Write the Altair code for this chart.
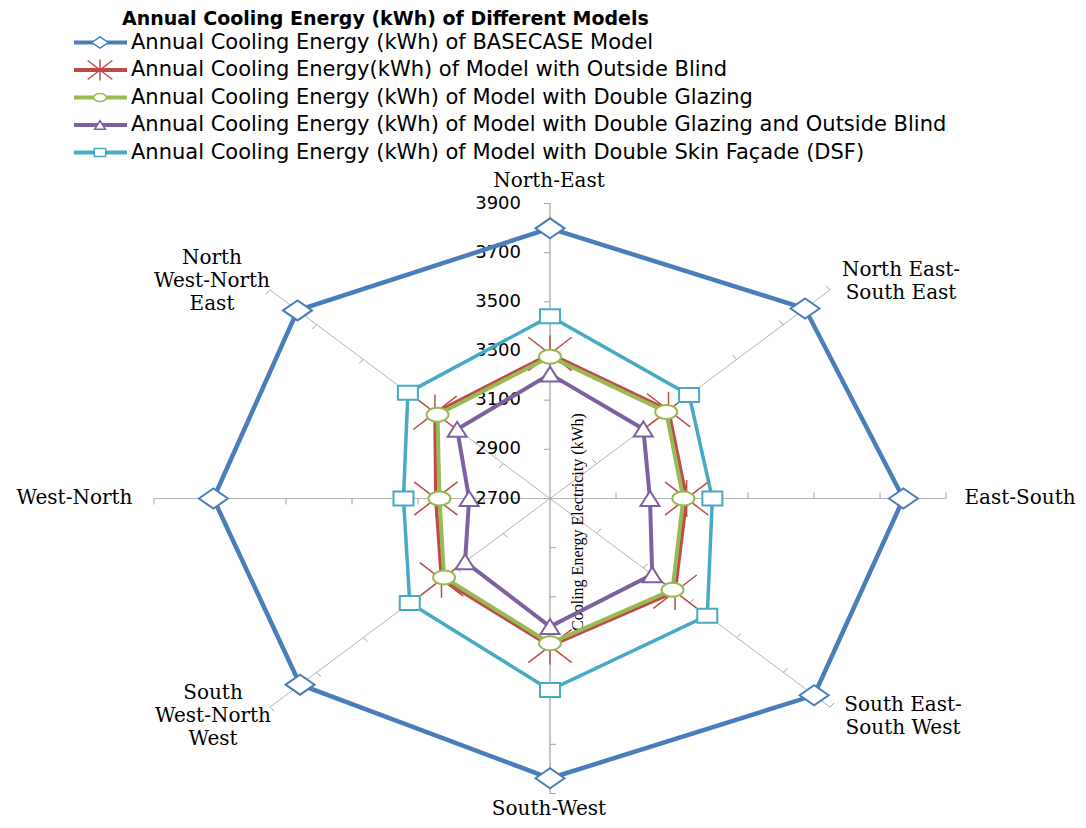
import altair as alt
import pandas as pd

# ---------------- data ----------------
categories = ["North-East", "North East-South East", "East-South", "South East-South West",
              "South-West", "South West-North West", "West-North", "North West-North East"]
category_labels = ["North-East", "North East-\nSouth East", "East-South", "South East-\nSouth West",
                   "South-West", "South\nWest-North\nWest", "West-North", "North\nWest-North\nEast"]
series_names = [
    "Annual Cooling  Energy (kWh) of BASECASE Model",
    "Annual Cooling Energy(kWh) of Model with Outside Blind",
    "Annual Cooling Energy (kWh) of Model with Double Glazing",
    "Annual Cooling Energy (kWh) of Model with Double Glazing and Outside Blind",
    "Annual Cooling Energy (kWh) of Model with Double Skin Façade (DSF)",
]
basecase = [3799, 3793, 3771, 3832, 3838, 3771, 3720, 3782]
outside_blind = [3288, 3208, 3114, 3236, 3300, 3165, 3046, 3193]
double_glazing = [3277, 3198, 3104, 3225, 3289, 3154, 3035, 3182]
dg_outside_blind = [3206, 3100, 3003, 3138, 3221, 3064, 2945, 3098]
dsf = [3441, 3296, 3192, 3374, 3479, 3301, 3144, 3309]
radial_ticks = [2700, 2900, 3100, 3300, 3500, 3700, 3900]
legend_title = "Annual Cooling Energy (kWh) of Different Models"
axis_title = "Cooling Energy Electricity  (kWh)"

all_values = [basecase, outside_blind, double_glazing, dg_outside_blind, dsf]

# ---------------- styles / layout ----------------
colors = ["#4A7EBB", "#BE4B48", "#98B954", "#7D60A0", "#46AAC5"]
line_widths = [4.5, 3.5, 4.0, 4.0, 3.5]
marker_paths = [
    "M-1.45,0L0,-1L1.45,0L0,1Z",                                   # diamond
    "M-2.17,-1.67L2.17,1.67M-2.17,1.67L2.17,-1.67M0,-1.84L0,1.84",  # star
    "M-1.1,0A1.1,0.7,0,1,0,1.1,0A1.1,0.7,0,1,0,-1.1,0Z",            # circle
    "M0,-0.75L0.95,0.75L-0.95,0.75Z",                              # triangle
    "M-1,-0.7L1,-0.7L1,0.7L-1,0.7Z",                               # square
]
marker_stroke = [2, 1.5, 2, 2, 2]
MARKER_SIZE = 400
LEGEND_MARKER_SIZE = 130

RMIN, RMAX = 2700, 3900
M = 8
W, H = 1070, 812
CX, CY = 550.0, 498.5
RX, RY = 396.0, 295.0


def px2x(px):
    return (px - CX) / RX


def py2y(py):
    return (CY - py) / RY


xs = alt.Scale(domain=[px2x(M), px2x(M + W)], nice=False, zero=False)
ys = alt.Scale(domain=[py2y(M + H), py2y(M)], nice=False, zero=False)

SERIF = "DejaVu Serif"
SANS = "DejaVu Sans"

# ---------------- tables ----------------
rows = []
for s, vals in zip(series_names, all_values):
    for i, v in enumerate(vals + [vals[0]]):
        rows.append({"series": s, "k": i % 8, "order": i, "value": v})
df = pd.DataFrame(rows)

spokes = pd.DataFrame({"k": list(range(8)), "category": categories})
ticks = pd.DataFrame([{"k": k, "v": v} for k in range(8) for v in radial_ticks[1:]])
tick_labels = pd.DataFrame({"v": radial_ticks, "label": [str(v) for v in radial_ticks]})

# anchor = centre of the first text line (page pixels)
label_px = [(549, 181), (901, 270), (1020, 498), (903, 705),
            (549, 809), (213, 693), (74.5, 498), (212, 258)]
cat_df = pd.DataFrame({"label": category_labels,
                       "lx": [px2x(p[0]) for p in label_px],
                       "ly": [py2y(p[1]) for p in label_px]})

X = lambda f: alt.X(f, scale=xs, axis=None)
Y = lambda f: alt.Y(f, scale=ys, axis=None)
X2 = lambda f: alt.X2(f)
Y2 = lambda f: alt.Y2(f)

layers = []

# spokes
spoke_base = alt.Chart(spokes).transform_calculate(
    a="datum.k*PI/4", x0="0", y0="0", x1="sin(datum.a)", y1="cos(datum.a)"
)
layers.append(spoke_base.transform_filter("datum.k % 4 != 0").mark_rule(color="#B4B4B4", strokeWidth=1).encode(
    x=X("x0:Q"), y=Y("y0:Q"), x2=X2("x1:Q"), y2=Y2("y1:Q")))
layers.append(spoke_base.transform_filter("datum.k % 4 == 0").mark_rule(color="#8C8C8C", strokeWidth=1).encode(
    x=X("x0:Q"), y=Y("y0:Q"), x2=X2("x1:Q"), y2=Y2("y1:Q")))

# tick marks on spokes
TL = 6.0
tick_chart = alt.Chart(ticks).transform_calculate(
    a="datum.k*PI/4",
    r=f"(datum.v-{RMIN})/({RMAX}-{RMIN})",
    tx="datum.r*sin(datum.a)",
    ty="datum.r*cos(datum.a)",
    tx2=f"datum.tx - cos(datum.a)*{TL}/{RX}",
    ty2=f"datum.ty + sin(datum.a)*{TL}/{RY}",
).mark_rule(color="#A0A0A0", strokeWidth=1).encode(
    x=X("tx:Q"), y=Y("ty:Q"), x2=X2("tx2:Q"), y2=Y2("ty2:Q"))
layers.append(tick_chart)

# radial tick labels
layers.append(alt.Chart(tick_labels).transform_calculate(
    ty=f"(datum.v-{RMIN})/({RMAX}-{RMIN})"
).mark_text(align="right", baseline="middle", font=SANS, fontSize=18, color="#000000").encode(
    x=alt.value(521 - M), y=Y("ty:Q"), text="label:N"))

# axis title
layers.append(alt.Chart(pd.DataFrame({"t": [axis_title]})).mark_text(
    angle=270, align="center", baseline="middle", font="Liberation Serif", fontSize=16, color="#000000"
).encode(x=alt.value(578 - M), y=alt.value(522 - M), text="t:N"))

# series
base = alt.Chart(df).transform_calculate(
    a="datum.k*PI/4",
    r=f"(datum.value-{RMIN})/({RMAX}-{RMIN})",
    x="datum.r*sin(datum.a)",
    y="datum.r*cos(datum.a)",
)
for s, c, lw, path, sw in zip(series_names, colors, line_widths, marker_paths, marker_stroke):
    sub = base.transform_filter(alt.datum.series == s)
    layers.append(sub.mark_line(color=c, strokeWidth=lw, strokeJoin="miter").encode(
        x=X("x:Q"), y=Y("y:Q"), order="order:Q"))
    layers.append(sub.transform_filter("datum.order < 8").mark_point(
        shape=path, size=MARKER_SIZE, filled=False, fill="#FFFFFF", fillOpacity=1,
        stroke=c, strokeWidth=sw, opacity=1).encode(x=X("x:Q"), y=Y("y:Q")))

# category labels
layers.append(alt.Chart(cat_df).mark_text(
    align="center", baseline="middle", font=SERIF, fontSize=20, lineBreak="\n", lineHeight=23,
    color="#000000").encode(x=X("lx:Q"), y=Y("ly:Q"), text="label:N"))

# legend
legend_df = pd.DataFrame({"series": series_names, "i": list(range(len(series_names)))})
LY0, LDY = 42.5, 27.5
leg = alt.Chart(legend_df).transform_calculate(
    ly=f"({CY} - ({LY0} + {LDY}*datum.i))/{RY}",
    lx=f"({100} - {CX})/{RX}",
)
for s, c, path in zip(series_names, colors, marker_paths):
    sub = leg.transform_filter(alt.datum.series == s)
    layers.append(sub.mark_rule(color=c, strokeWidth=4).encode(
        x=alt.value(74 - M), x2=alt.value(127 - M), y=Y("ly:Q")))
    layers.append(sub.mark_point(shape=path, size=LEGEND_MARKER_SIZE, filled=False, fill="#FFFFFF",
                                 fillOpacity=1, stroke=c, strokeWidth=1.5, opacity=1).encode(
        x=X("lx:Q"), y=Y("ly:Q")))
layers.append(leg.mark_text(align="left", baseline="middle", font=SANS, fontSize=21, color="#000000").encode(
    x=alt.value(131 - M), y=Y("ly:Q"), text="series:N"))
layers.append(alt.Chart(pd.DataFrame({"t": [legend_title]})).mark_text(
    align="left", baseline="top", font=SANS, fontSize=19, fontWeight="bold", color="#000000"
).encode(x=alt.value(122 - M), y=alt.value(2), text="t:N"))

chart = alt.layer(*layers).properties(
    width=W, height=H, padding=0, autosize=alt.AutoSizeParams(type="none")
).configure_view(stroke=None)

chart.save("out.html", embed_options={"renderer": "svg", "actions": False})
